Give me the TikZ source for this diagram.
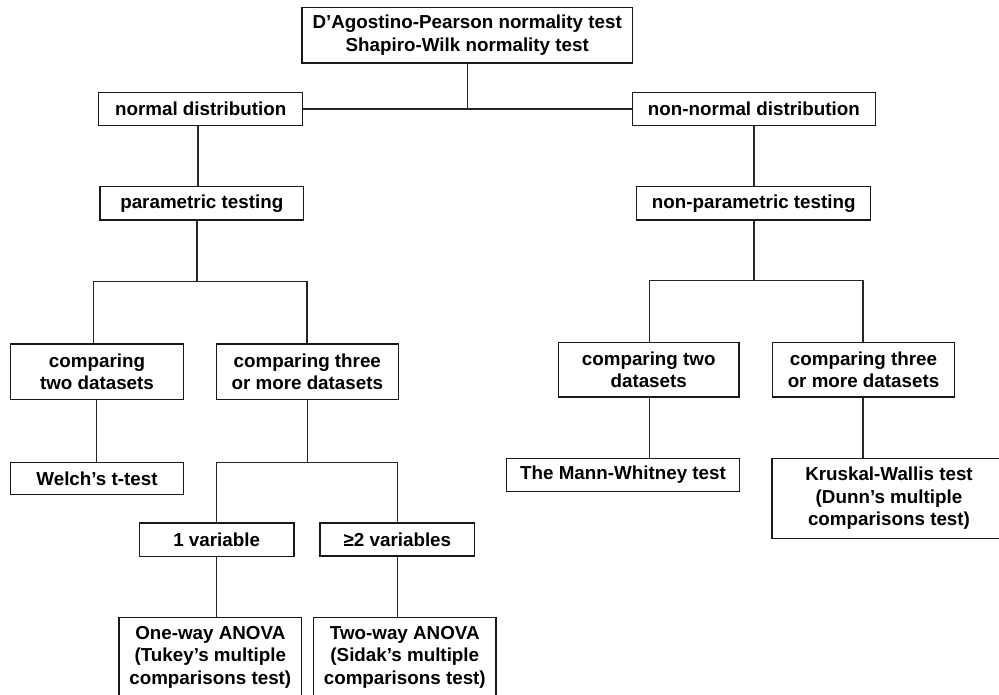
\documentclass[tikz,border=0pt]{standalone}
\usepackage{fontspec}
\setmainfont{Liberation Sans}
\usetikzlibrary{calc}
\begin{document}
\begin{tikzpicture}[x=0.75pt,y=-0.75pt,
  box/.style={draw=black!90,line width=1.1pt,rectangle,inner sep=0pt,align=center,
    font=\fontsize{14.1}{16.9}\selectfont\bfseries,text=black},
  conn/.style={draw=black!85,line width=1.05pt}]
\useasboundingbox (0,0) rectangle (999,695);
\fill[white] (0,0) rectangle (999,695);
% nodes
\node[box,minimum width=330.5*0.75pt,minimum height=55.3*0.75pt] (top) at (467.2,35.3) {D’Agostino-Pearson normality test\\Shapiro-Wilk normality test};
\node[box,minimum width=204*0.75pt,minimum height=33*0.75pt] (normdist) at (200.7,109.2) {normal distribution};
\node[box,minimum width=243*0.75pt,minimum height=33*0.75pt] (nonnorm) at (753.8,109.2) {non-normal distribution};
\node[box,minimum width=203.7*0.75pt,minimum height=33.3*0.75pt] (param) at (201.8,203.3) {parametric testing};
\node[box,minimum width=234*0.75pt,minimum height=33.3*0.75pt] (nonparam) at (753.7,203.3) {non-parametric testing};
\node[box,minimum width=173.4*0.75pt,minimum height=55.5*0.75pt] (cmp2L) at (97,371.8) {comparing\\two datasets};
\node[box,minimum width=182*0.75pt,minimum height=55.5*0.75pt] (cmp3L) at (307.3,371.8) {comparing three\\or more datasets};
\node[box,minimum width=173.4*0.75pt,minimum height=32.4*0.75pt] (welch) at (97,478.5) {Welch’s t-test};
\node[box,minimum width=154.7*0.75pt,minimum height=33.5*0.75pt] (var1) at (216.7,539.8) {1 variable};
\node[box,minimum width=154.7*0.75pt,minimum height=33*0.75pt] (var2) at (397.4,539.3) {≥2 variables};
\node[box,minimum width=182.7*0.75pt,minimum height=80*0.75pt] (oneway) at (210.3,657.3) {One-way ANOVA\\(Tukey’s multiple\\comparisons test)};
\node[box,minimum width=182.3*0.75pt,minimum height=80*0.75pt] (twoway) at (404.8,657.3) {Two-way ANOVA\\(Sidak’s multiple\\comparisons test)};
\node[box,minimum width=180.7*0.75pt,minimum height=54.7*0.75pt] (cmp2R) at (648.7,369.7) {comparing two\\datasets};
\node[box,minimum width=182.4*0.75pt,minimum height=54.7*0.75pt] (cmp3R) at (863.5,369.7) {comparing three\\or more datasets};
\node[box,minimum width=233.4*0.75pt,minimum height=33.4*0.75pt] (mann) at (623,475) {The Mann-Whitney test};
\node[box,minimum width=234*0.75pt,minimum height=80*0.75pt] (krusk) at (889,498.3) {Kruskal-Wallis test\\(Dunn’s multiple\\comparisons test)};
% junction coordinates
\coordinate (l1) at (198,0);
\coordinate (jl) at (197,281.7);
\coordinate (jlL) at (93.7,281.7);
\coordinate (jlR) at (307,281.7);
\coordinate (w1) at (96.7,0);
\coordinate (jm) at (307.3,462.3);
\coordinate (jmL) at (216.7,462.3);
\coordinate (jmR) at (397.6,462.3);
\coordinate (jr) at (754,280.7);
\coordinate (jrL) at (649.7,280.7);
\coordinate (jrR) at (862.8,280.7);
% connectors
\draw[conn] (top.south) -- (top.south |- normdist.east);
\draw[conn] (normdist.east) -- (nonnorm.west);
\draw[conn] (normdist.south -| l1) -- (param.north -| l1);
\draw[conn] (nonnorm.south) -- (nonparam.north -| nonnorm.south);
\draw[conn] (param.south -| jl) -- (jl);
\draw[conn] (cmp2L.north -| jlL) -- (jlL) -- (jlR) -- (cmp3L.north -| jlR);
\draw[conn] (cmp2L.south -| w1) -- (welch.north -| w1);
\draw[conn] (cmp3L.south -| jm) -- (jm);
\draw[conn] (var1.north -| jmL) -- (jmL) -- (jmR) -- (var2.north -| jmR);
\draw[conn] (var1.south -| jmL) -- (oneway.north -| jmL);
\draw[conn] (var2.south -| jmR) -- (twoway.north -| jmR);
\draw[conn] (nonparam.south -| jr) -- (jr);
\draw[conn] (cmp2R.north -| jrL) -- (jrL) -- (jrR) -- (cmp3R.north -| jrR);
\draw[conn] (cmp2R.south -| jrL) -- (mann.north -| jrL);
\draw[conn] (cmp3R.south -| jrR) -- (krusk.north -| jrR);
\end{tikzpicture}
\end{document}
